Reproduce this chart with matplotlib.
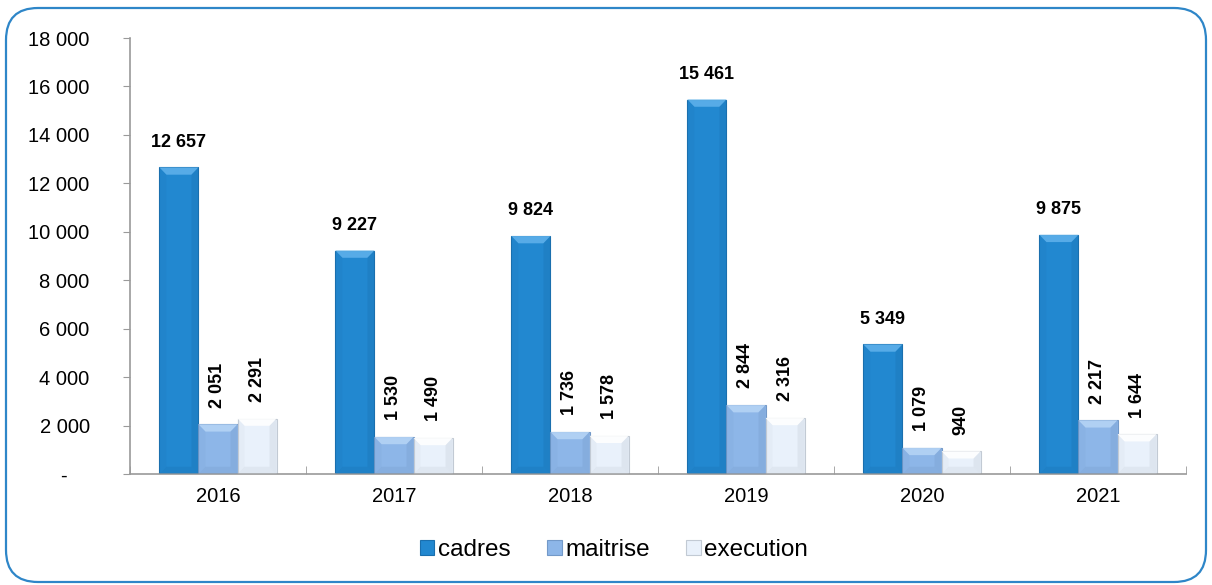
import numpy as np
import matplotlib.pyplot as plt
from matplotlib.patches import FancyBboxPatch, Polygon
from matplotlib.ticker import FuncFormatter

years = ['2016', '2017', '2018', '2019', '2020', '2021']
cadres = [12657, 9227, 9824, 15461, 5349, 9875]
maitrise = [2051, 1530, 1736, 2844, 1079, 2217]
execution = [2291, 1490, 1578, 2316, 940, 1644]

series = [
    ('cadres', cadres, '#2288D0', '#5DB0EA', '#1A6FAE'),
    ('maitrise', maitrise, '#8DB6E8', '#B4D3F5', '#7399C8'),
    ('execution', execution, '#E9F1FB', '#FFFFFF', '#C2CAD4'),
]

plt.rcParams['font.family'] = ['Liberation Sans', 'DejaVu Sans']

fig = plt.figure(figsize=(12.12, 5.85), dpi=100)
ax = fig.add_axes([130 / 1212, 1 - 474 / 585, 1056 / 1212, 436 / 585])

# rounded frame around the whole chart (inch coordinates)
frame = FancyBboxPatch((0.06, 0.03), 12.0, 5.74,
                       boxstyle='round,pad=0,rounding_size=0.32',
                       transform=fig.dpi_scale_trans, facecolor='none',
                       edgecolor='#2E86C8', linewidth=1.6)
fig.patches.append(frame)

x = np.arange(len(years))
w = 0.222
bev_y = 300  # bevel depth in data units
bev_x = 0.04


def bevel(ax, xl, width, h, light, dark):
    xr = xl + width
    # lighter top facet, soft darker bottom and sides
    ax.add_patch(Polygon([(xl, h), (xr, h), (xr - bev_x, h - bev_y), (xl + bev_x, h - bev_y)],
                         facecolor=light, edgecolor='none', alpha=0.9, zorder=3))
    ax.add_patch(Polygon([(xl, 0), (xr, 0), (xr - bev_x, bev_y), (xl + bev_x, bev_y)],
                         facecolor=dark, edgecolor='none', alpha=0.25, zorder=3))
    ax.add_patch(Polygon([(xr, 0), (xr, h), (xr - bev_x, h - bev_y), (xr - bev_x, bev_y)],
                         facecolor=dark, edgecolor='none', alpha=0.3, zorder=3))
    ax.add_patch(Polygon([(xl, 0), (xl, h), (xl + bev_x, h - bev_y), (xl + bev_x, bev_y)],
                         facecolor=dark, edgecolor='none', alpha=0.12, zorder=3))


handles = []
for i, (name, vals, face, light, dark) in enumerate(series):
    pos = x + (i - 1) * w
    bars = ax.bar(pos, vals, w, color=face, edgecolor=dark, linewidth=0.8,
                  label=name, zorder=2)
    handles.append(bars)
    for b, v in zip(bars, vals):
        bevel(ax, b.get_x(), b.get_width(), v, light, dark)
        txt = f'{v:,}'.replace(',', ' ')
        ax.annotate(txt, (b.get_x() + b.get_width() / 2, v), xytext=(0, 12),
                    textcoords='offset points', ha='center', va='bottom',
                    rotation=0 if i == 0 else 90, fontsize=13, fontweight='bold')

ax.set_xlim(-0.5, len(years) - 0.5)
ax.set_ylim(0, 18000)
ax.set_yticks(np.arange(0, 18001, 2000))
ax.yaxis.set_major_formatter(FuncFormatter(
    lambda v, p: '-    ' if v == 0 else f'{int(v):,}'.replace(',', ' ')))
ax.set_xticks(x)
ax.set_xticklabels(years)
ax.set_xticks(np.arange(-0.5, len(years), 1), minor=True)

for s in ['top', 'right']:
    ax.spines[s].set_visible(False)
ax.spines['left'].set_color('#9A9A9A')
ax.spines['bottom'].set_color('#9A9A9A')
ax.spines['left'].set_linewidth(1.2)
ax.spines['bottom'].set_linewidth(1.2)

ax.tick_params(axis='y', length=5, color='#9A9A9A', labelsize=14.5, pad=24)
ax.tick_params(axis='x', which='major', length=0, labelsize=14.5, pad=9)
ax.tick_params(axis='x', which='minor', length=6, direction='in', color='#9A9A9A')

ax.legend(handles=handles, loc='center', bbox_to_anchor=(614 / 1212, 1 - 550 / 585),
          bbox_transform=fig.transFigure, ncol=3, frameon=False, fontsize=17.5,
          handlelength=0.6, handleheight=0.6, handletextpad=0.15, columnspacing=1.5)

fig.savefig('out.png', dpi=100)
